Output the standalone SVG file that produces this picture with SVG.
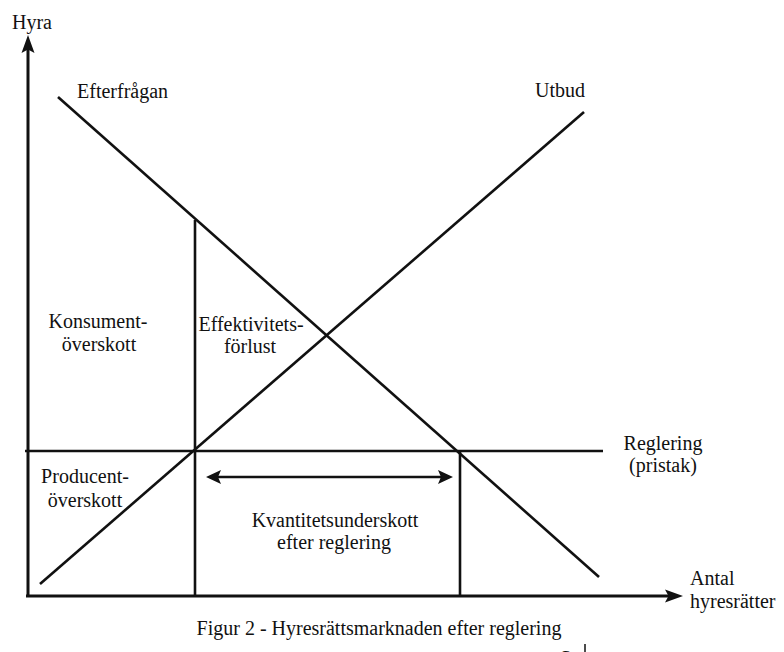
<svg xmlns="http://www.w3.org/2000/svg" width="784" height="652" viewBox="0 0 784 652">
<style>
  .t { font-family: "Liberation Serif", "Times New Roman", serif; font-size: 20px; fill: #111; }
  .m { text-anchor: middle; }
  .ln { stroke: #111; stroke-width: 2.6; fill: none; stroke-linecap: butt; }
  .ax { stroke: #111; stroke-width: 3; fill: none; }
  .hd { fill: #111; }
</style>
<rect width="784" height="652" fill="#fff"/>
<g id="axes">
  <line class="ax" x1="28" y1="597" x2="28" y2="48"/>
  <polygon class="hd" points="28,35 21.5,53 28,49.5 34.5,53"/>
  <line class="ax" x1="26" y1="596" x2="670" y2="596"/>
  <polygon class="hd" points="683,596 665,589.5 668.5,596 665,602.5"/>
</g>
<g id="connectors">
  <line id="demand" class="ln" x1="58" y1="97" x2="599" y2="577"/>
  <line id="supply" class="ln" x1="40" y1="584" x2="584" y2="112"/>
  <line id="ceiling" class="ln" x1="25" y1="451" x2="603" y2="451"/>
  <line id="q-reg" class="ln" x1="195" y1="220" x2="195" y2="596"/>
  <line id="q-dem" class="ln" x1="460" y1="451" x2="460" y2="596"/>
  <g id="shortage-arrow">
    <line class="ln" x1="215" y1="477" x2="444" y2="477"/>
    <polygon class="hd" points="206,477 221,470 218,477 221,484"/>
    <polygon class="hd" points="453,477 438,470 441,477 438,484"/>
  </g>
</g>
<g id="labels">
  <text class="t" x="12" y="29">Hyra</text>
  <text class="t" x="77" y="98">Efterfrågan</text>
  <text class="t" x="585" y="97" text-anchor="end">Utbud</text>
  <g id="konsument"><text class="t m" x="98" y="328">Konsument-</text><text class="t m" x="99" y="351">överskott</text></g>
  <g id="effektivitet"><text class="t m" x="251" y="331">Effektivitets-</text><text class="t m" x="250" y="353">förlust</text></g>
  <g id="producent"><text class="t m" x="85" y="483">Producent-</text><text class="t m" x="85" y="507">överskott</text></g>
  <g id="reglering"><text class="t m" x="663" y="450">Reglering</text><text class="t m" x="663" y="472">(pristak)</text></g>
  <g id="kvantitet"><text class="t m" x="335" y="527">Kvantitetsunderskott</text><text class="t m" x="334" y="549">efter reglering</text></g>
  <g id="antal"><text class="t" x="690" y="585">Antal</text><text class="t" x="690" y="608">hyresrätter</text></g>
  <text class="t m" x="379" y="635" style="font-size:20px">Figur 2 - Hyresrättsmarknaden efter reglering</text>
  <text class="t" x="558" y="668" style="font-size:26px">6</text>
  <line x1="585" y1="644" x2="585" y2="652" stroke="#111" stroke-width="1.5"/>
</g>
</svg>
